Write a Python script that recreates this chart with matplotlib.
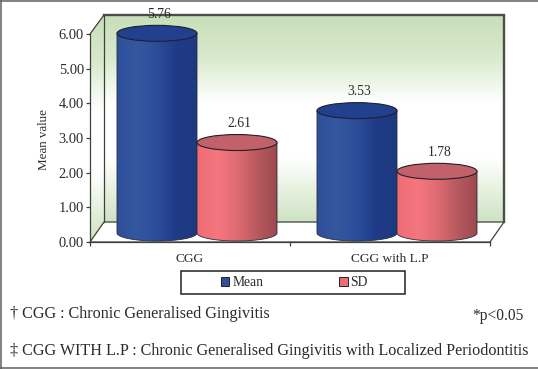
import numpy as np
import matplotlib
matplotlib.use("Agg")
import matplotlib.pyplot as plt
from matplotlib.patches import Ellipse, Rectangle, Polygon, PathPatch
from matplotlib.lines import Line2D
from matplotlib.path import Path
from matplotlib.colors import LinearSegmentedColormap

categories = ["CGG", "CGG with L.P"]
series_names = ["Mean", "SD"]
mean_values = [5.76, 3.53]
sd_values = [2.61, 1.78]
y_ticks = [0, 1, 2, 3, 4, 5, 6]

W, H = 538, 369
plt.rcParams['font.family'] = ['Liberation Serif', 'DejaVu Serif']
TXT = '#2b2b2b'
EDGE = '#3d4238'

fig = plt.figure(figsize=(W / 100, H / 100), dpi=100, facecolor='white')
ax = fig.add_axes([90 / W, (H - 242) / H, 400 / W, 208 / H])
ax.set_xlim(-0.5, 1.5)
ax.set_ylim(0, 6)
ax.patch.set_visible(False)


def xd(px):
    return (px - 190) / 200


def yd(py):
    return (242 - py) / (208 / 6)


def clipped_gradient(arr, cmap, extent, patch, z):
    im = ax.imshow(arr, cmap=cmap, extent=extent, aspect='auto', zorder=z,
                   vmin=0, vmax=1, interpolation='bilinear')
    im.set_clip_box(fig.bbox)
    im.set_clip_path(patch)
    return im


# walls and floor
wall_cmap = LinearSegmentedColormap.from_list('w', [
    (0, '#c8dfba'), (0.2, '#d8e9cd'), (0.42, '#ffffff'), (0.7, '#ffffff'),
    (0.85, '#e6f1df'), (1, '#cfe3c3')])
grad_v = np.linspace(0, 1, 128).reshape(-1, 1)

back = Polygon([(xd(104), yd(15)), (xd(504), yd(15)), (xd(504), yd(222)), (xd(104), yd(222))],
               closed=True, fc='none', ec='none', transform=ax.transData)
left = Polygon([(xd(90), yd(34)), (xd(104), yd(15)), (xd(104), yd(222)), (xd(90), yd(242))],
               closed=True, fc='none', ec='none', transform=ax.transData)
clipped_gradient(grad_v, wall_cmap, (xd(104), xd(504), yd(222), yd(15)), back, 0.5)
clipped_gradient(grad_v, wall_cmap, (xd(90), xd(104), yd(242), yd(15)), left, 0.5)
ax.add_patch(Polygon([(xd(90), yd(242)), (xd(104), yd(222)), (xd(504), yd(222)), (xd(490), yd(242))],
                     closed=True, fc='white', ec=EDGE, lw=0.9, clip_on=False, zorder=0.6))
ax.plot([xd(104), xd(104)], [yd(222), yd(15)], color=EDGE, lw=0.9, clip_on=False, zorder=0.7)
ax.plot([xd(104), xd(504), xd(504)], [yd(15), yd(15), yd(222)], color='#4a4f45', lw=1.7,
        clip_on=False, zorder=0.7, solid_joinstyle='miter')
ax.plot([xd(90), xd(104)], [yd(34), yd(15)], color=EDGE, lw=0.9, clip_on=False, zorder=0.7)

# cylinders
blue_cmap = LinearSegmentedColormap.from_list('b', ['#2f519c', '#35579f', '#2c4c9a', '#1f3b86', '#1c3a80'])
red_cmap = LinearSegmentedColormap.from_list('r', ['#ee6c76', '#f5767f', '#e06c72', '#b85a60', '#9c4a4e'])
side_colors = [blue_cmap, red_cmap]
top_colors = ['#21418f', '#c2616a']
grad_h = np.linspace(0, 1, 128).reshape(1, -1)
BAR_W = 0.4
ELL_H = yd(226) - yd(242)
BASE = yd(233)
SHIFT = 7 / 200
LABEL_NUDGE = 0.012


def cylinder(cx, value, cmap, top, z):
    x0, x1 = cx - BAR_W / 2, cx + BAR_W / 2
    ytop = BASE + value
    th = np.linspace(np.pi, 2 * np.pi, 40)
    xs = cx + BAR_W / 2 * np.cos(th)
    ys = BASE + ELL_H / 2 * np.sin(th)
    verts = [(x0, ytop)] + list(zip(xs, ys)) + [(x1, ytop), (x0, ytop)]
    body = PathPatch(Path(verts), fc='none', ec='#2a2a40', lw=0.6, clip_on=False, zorder=z + 0.1)
    ax.add_patch(body)
    clipped_gradient(grad_h, cmap, (x0, x1, BASE - ELL_H, ytop), body, z)
    ax.add_patch(Ellipse((cx, ytop), BAR_W, ELL_H, fc=top, ec='#20202a', lw=0.8,
                         clip_on=False, zorder=z + 0.2))


for i in range(len(categories)):
    for j, vals in enumerate([mean_values, sd_values]):
        cx = i + (j - 0.5) * BAR_W + SHIFT
        cylinder(cx, vals[i], side_colors[j], top_colors[j], 1 + j + 2 * i)
        ax.text(cx + LABEL_NUDGE, BASE + vals[i] + 19 / (208 / 6), f'{vals[i]:.2f}', ha='center',
                va='center', fontsize=9.8, color=TXT, zorder=10, clip_on=False)

# axes
for s in ('top', 'right'):
    ax.spines[s].set_visible(False)
for s in ('left', 'bottom'):
    ax.spines[s].set_color(EDGE)
    ax.spines[s].set_linewidth(0.9)
ax.set_yticks(y_ticks)
ax.set_yticklabels([f'{v:.2f}' for v in y_ticks], fontsize=10.4, color=TXT)
ax.tick_params(axis='y', length=3, width=0.9, color=EDGE, pad=1.5)
ax.set_xticks([0, 1])
ax.set_xticklabels(categories, fontsize=9.6, color=TXT)
ax.set_xticks([-0.5, 0.5, 1.5], minor=True)
ax.tick_params(axis='x', which='major', length=0, pad=8)
ax.tick_params(axis='x', which='minor', length=3, width=0.9, color=EDGE)
ax.set_ylabel('Mean value', fontsize=9.4, color=TXT)
ax.yaxis.set_label_coords((50 - 90) / 400, (242 - 140) / 208)

# legend
fig.add_artist(Rectangle((181 / W, (H - 294) / H), 224 / W, 23 / H, transform=fig.transFigure,
                         fc='white', ec='#222222', lw=1.1))
handles = [Rectangle((0, 0), 1, 1, fc=c, ec='#20202a', lw=0.7) for c in ['#2f519c', '#ee6c76']]
leg = fig.legend(handles, series_names, ncol=2, frameon=False, fontsize=9.8,
                 loc='center left', bbox_to_anchor=(221 / W, (H - 283) / H), borderpad=0,
                 borderaxespad=0, handlelength=0.62, handleheight=0.62, handletextpad=0.2,
                 columnspacing=5.6, labelcolor=TXT)

# footnotes
fig.text(10 / W, (H - 314) / H, '† CGG : Chronic Generalised Gingivitis', fontsize=11.6,
         color=TXT, va='center', ha='left')
fig.text(10 / W, (H - 351) / H,
         '‡ CGG WITH L.P : Chronic Generalised Gingivitis with Localized Periodontitis',
         fontsize=11.6, color=TXT, va='center', ha='left')
fig.text(524 / W, (H - 316) / H, '*p<0.05', fontsize=11.2, color=TXT, va='center', ha='right')

# image border (top, left and bottom only)
BORDER = '#5f5f5f'
for xs, ys in [((0, 1), (1 - 0.6 / H, 1 - 0.6 / H)),
               ((0.6 / W, 0.6 / W), (0, 1)),
               ((0, 1), (0.8 / H, 0.8 / H))]:
    fig.add_artist(Line2D(xs, ys, transform=fig.transFigure, color=BORDER, lw=1.1))

fig.savefig('out.png', dpi=100, facecolor='white')
